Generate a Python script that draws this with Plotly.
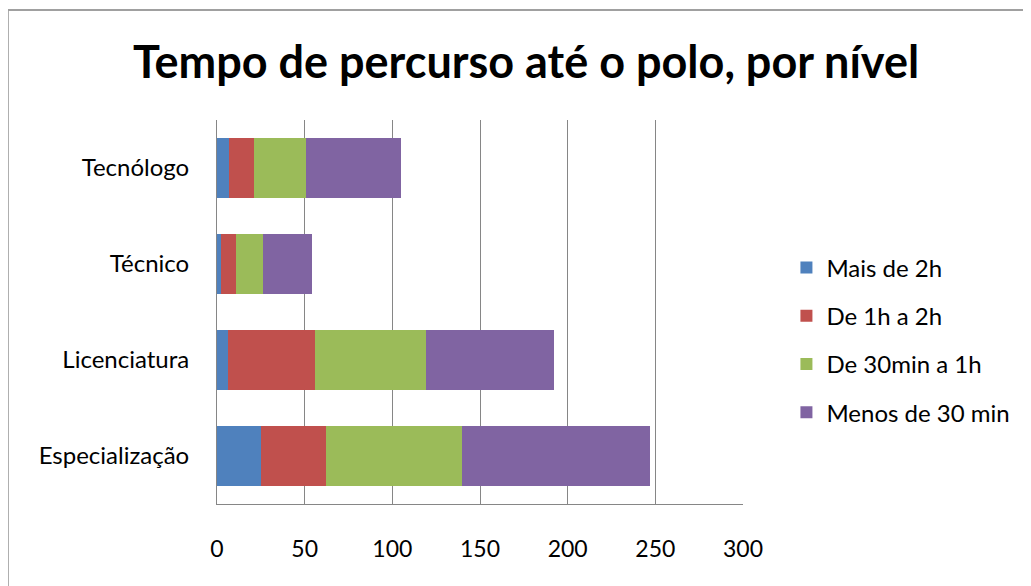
import plotly.graph_objects as go

categories = ["Especialização", "Licenciatura", "Técnico", "Tecnólogo"]
series_names = ["Mais de 2h", "De 1h a 2h", "De 30min a 1h", "Menos de 30 min"]
mais_2h = [25, 6, 2, 7]
de_1h_2h = [37, 50, 9, 14]
de_30_1h = [78, 63, 15, 30]
menos_30 = [107, 73, 28, 54]
x_ticks = [0, 50, 100, 150, 200, 250, 300]

colors = ["#4F81BD", "#C0504D", "#9BBB59", "#8064A2"]
values = [mais_2h, de_1h_2h, de_30_1h, menos_30]

FONT = "Lato"
fig = go.Figure()
for name, vals, col in zip(series_names, values, colors):
    fig.add_trace(go.Bar(
        y=categories, x=vals, name=name, orientation="h",
        marker=dict(color=col, line=dict(width=0)),
        legendgroup=name,
    ))

W, H = 1031, 586
OX, OY = 7, 8  # page offset of the figure
L, R, T, B = 216 - OX, W - 741.6 + OX, 120 - OY, H - 504 + OY
pw, ph = W - L - R, H - T - B

fig.update_layout(
    width=W, height=H,
    barmode="stack", bargap=0.365,
    margin=dict(l=L, r=R, t=T, b=B, autoexpand=False),
    paper_bgcolor="white", plot_bgcolor="white",
    font=dict(family=FONT, size=24, color="#000000"),
    title=dict(text="<b>Tempo de percurso até o polo, por nível</b>",
               x=(525 - OX) / W, xanchor="center", y=1 - (62 - OY) / H, yanchor="middle",
               font=dict(family=FONT, size=45, color="#000000")),
    xaxis=dict(range=[0, 300], tickvals=x_ticks, showgrid=True,
               gridcolor="#868686", gridwidth=1, showline=True,
               linecolor="#868686", linewidth=1, mirror=False,
               ticks="outside", ticklen=24, tickcolor="rgba(0,0,0,0)",
               zeroline=False, tickfont=dict(size=23)),
    yaxis=dict(categoryorder="array", categoryarray=categories,
               showline=True, linecolor="#868686", linewidth=1,
               ticks="outside", ticklen=22, tickcolor="rgba(0,0,0,0)",
               showgrid=False, tickfont=dict(size=24)),
    legend=dict(x=(785 - OX - L) / pw, xanchor="left",
                y=(H - B - (340 - OY)) / ph,
                yanchor="middle", traceorder="grouped",
                tracegroupgap=14, font=dict(size=24),
                bgcolor="rgba(0,0,0,0)"),
    shapes=[dict(type="rect", xref="paper", yref="paper",
                 x0=(7 - OX - L) / pw, x1=(1040 - L) / pw,
                 y0=-(600 - (H - B)) / ph, y1=(H - B - (10 - OY)) / ph,
                 line=dict(color="#A0A0A0", width=2), layer="below")],
)

fig.write_html("out.html")
